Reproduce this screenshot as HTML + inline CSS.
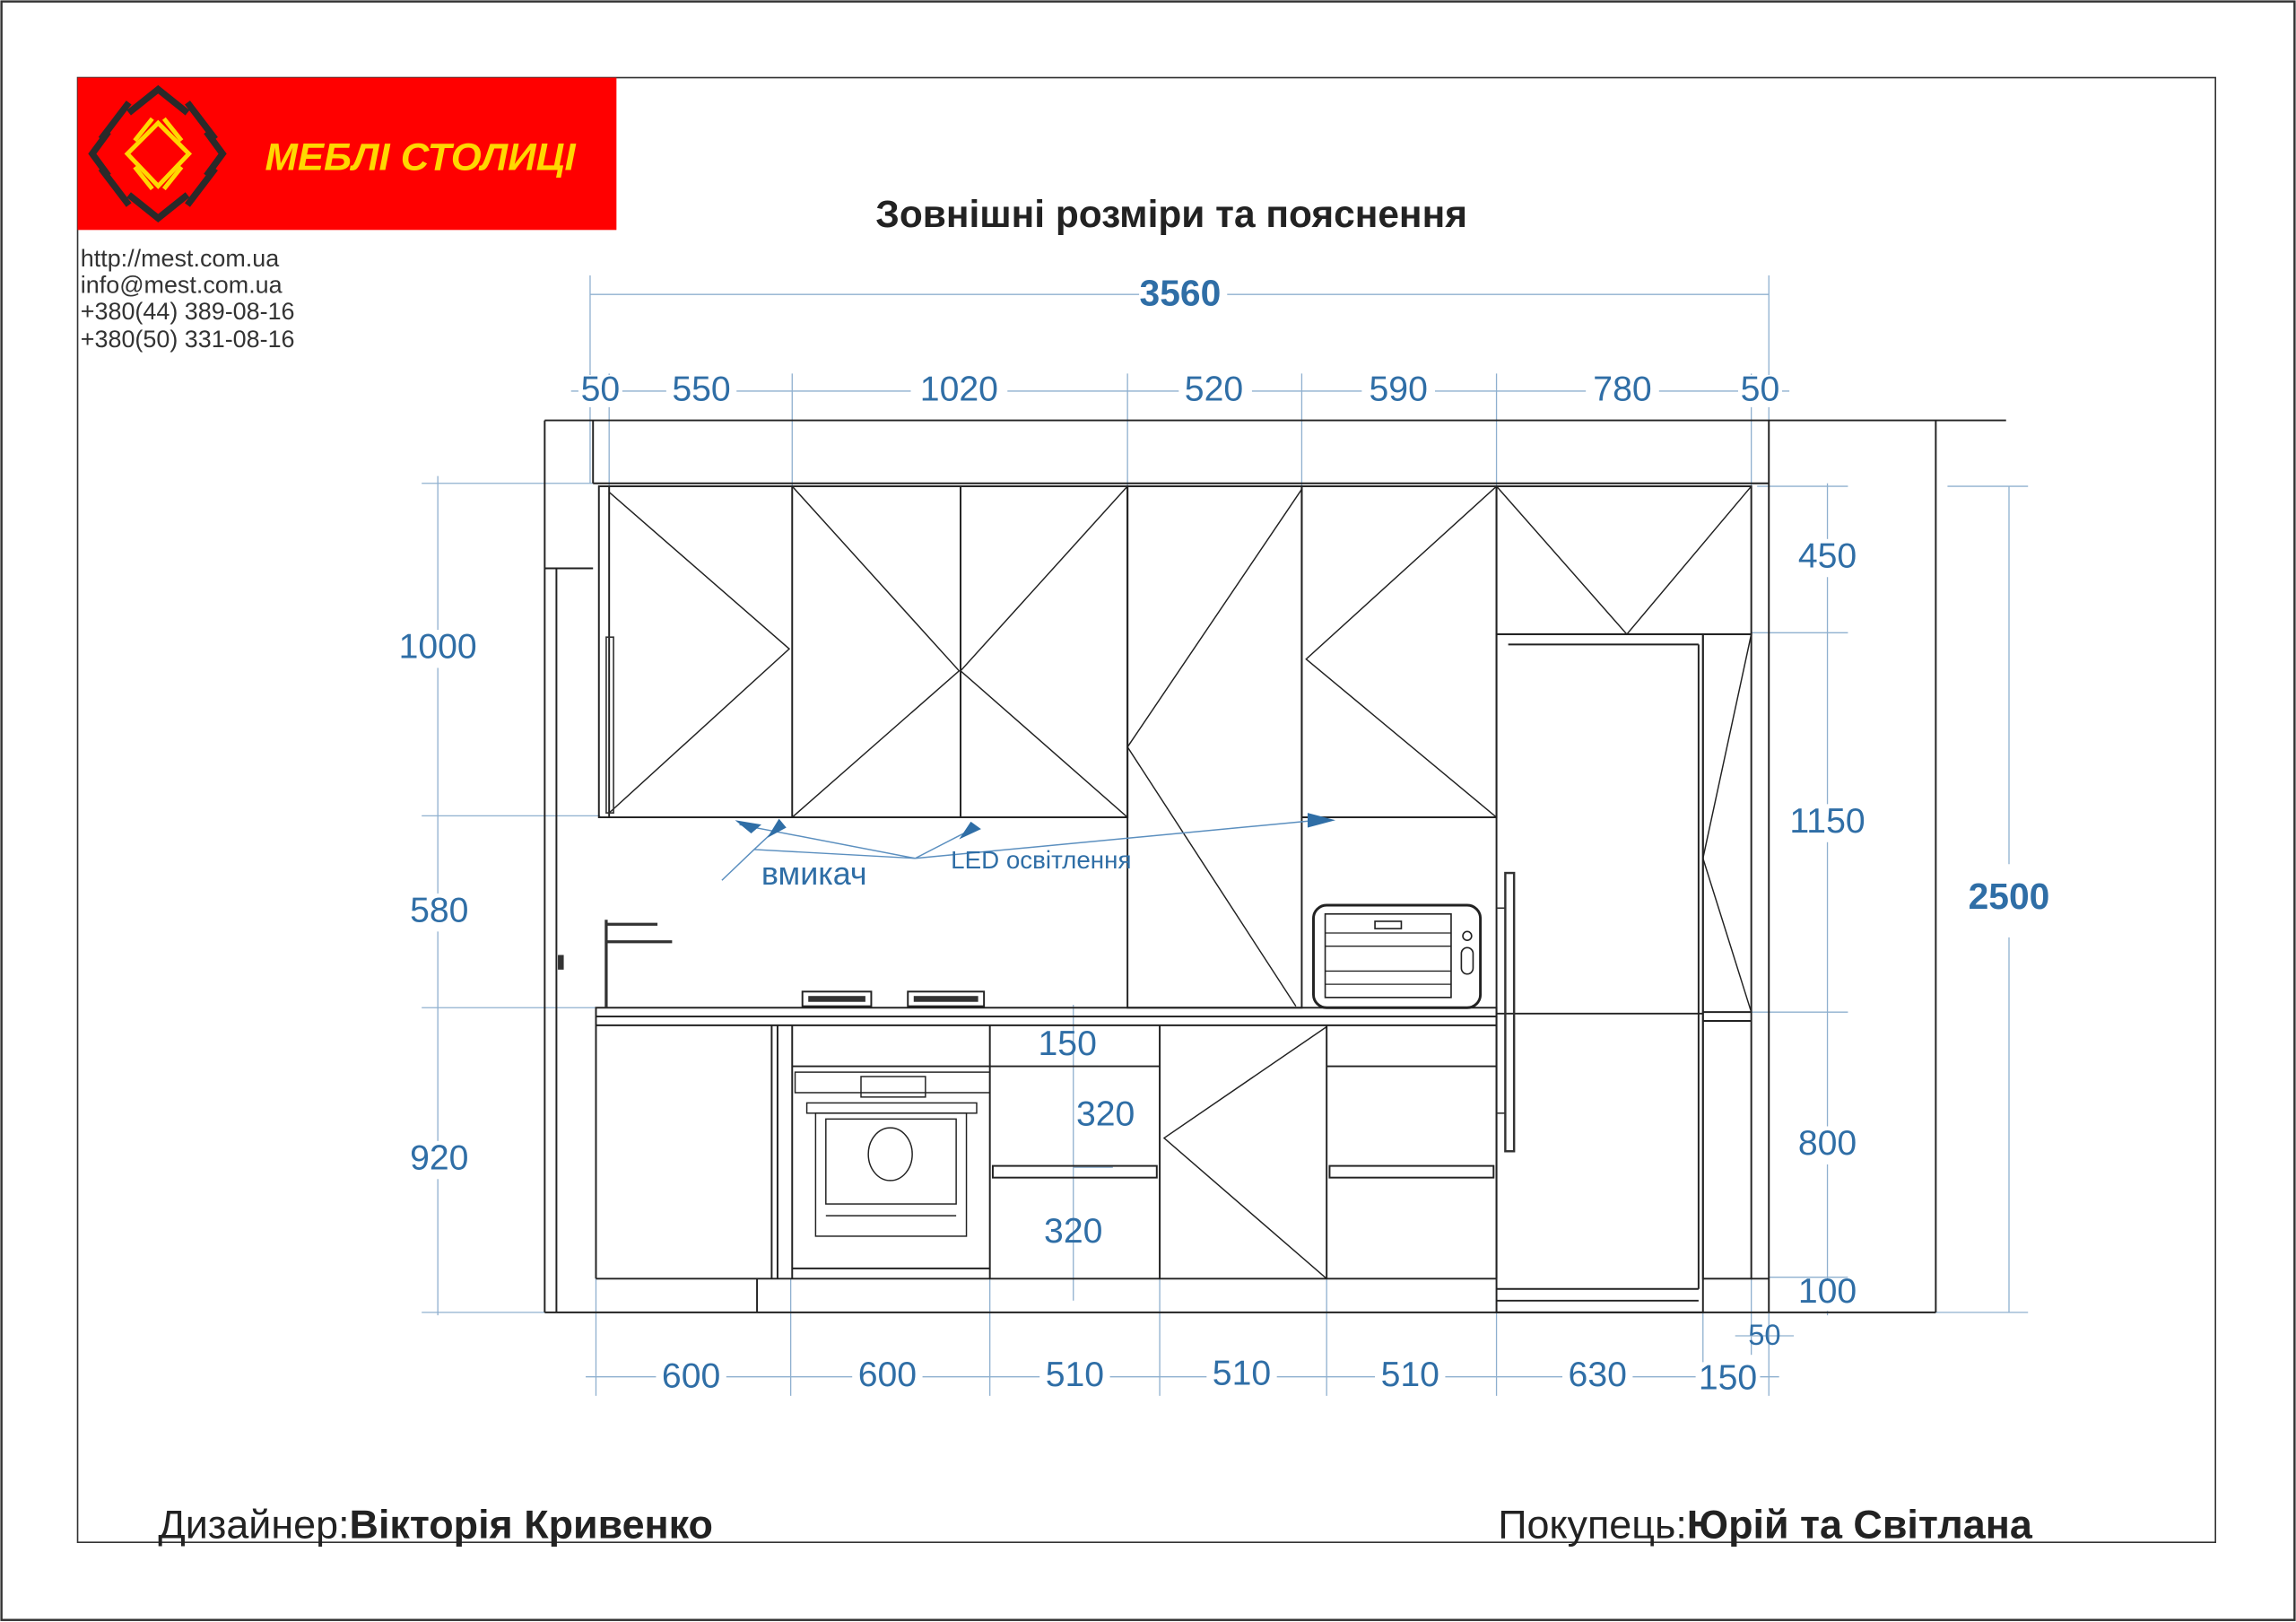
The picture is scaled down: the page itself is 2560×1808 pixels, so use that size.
<!DOCTYPE html>
<html><head><meta charset="utf-8"><style>
html,body{margin:0;padding:0;background:#fff;}
svg{display:block;}
text{font-family:"Liberation Sans",sans-serif;}
.d{fill:#2f6ea6;font-size:24px;text-anchor:middle;dominant-baseline:middle;}
.dl{stroke:#8fb0cf;stroke-width:0.8;fill:none;}
.k{stroke:#222;stroke-width:1.2;fill:none;}
.t{stroke:#222;stroke-width:0.9;fill:none;}
</style></head><body>
<svg width="2560" height="1808" viewBox="0 0 1568 1107.4" preserveAspectRatio="none" xmlns="http://www.w3.org/2000/svg">
<rect x="0" y="0" width="1568" height="1107.4" fill="#fff"/>
<rect x="1" y="1" width="1566" height="1105" fill="none" stroke="#333" stroke-width="1.5"/>
<rect x="53" y="53" width="1460" height="1000" fill="none" stroke="#333" stroke-width="1"/>
<!-- logo -->
<rect x="53" y="53" width="368" height="104" fill="#ff0000"/>
<g stroke="#2a2a2a" stroke-width="4.5" fill="none" stroke-linecap="butt">
<polyline points="74,90 63,105 74,120"/>
<polyline points="141,90 152,105 141,120"/>
<polyline points="88,77 108,61 128,77"/>
<polyline points="88,133 108,149 128,133"/>
<line x1="69" y1="95" x2="88" y2="70"/><line x1="128" y1="70" x2="147" y2="95"/>
<line x1="69" y1="115" x2="88" y2="140"/><line x1="128" y1="140" x2="147" y2="115"/>
</g>
<g stroke="#ffd800" stroke-width="3" fill="none">
<polygon points="108,84 129,105 108,127 87,105"/>
<line x1="92" y1="96" x2="104" y2="81"/><line x1="112" y1="81" x2="124" y2="96"/>
<line x1="92" y1="114" x2="104" y2="129"/><line x1="112" y1="129" x2="124" y2="114"/>
</g>
<text x="181" y="116" font-size="26" font-weight="bold" fill="#ffd800" textLength="212" lengthAdjust="spacingAndGlyphs" font-style="italic">МЕБЛІ  СТОЛИЦІ</text>
<g font-size="16.5" fill="#333">
<text x="55" y="182">http://mest.com.ua</text>
<text x="55" y="200">info@mest.com.ua</text>
<text x="55" y="218">+380(44)  389-08-16</text>
<text x="55" y="237">+380(50)  331-08-16</text>
</g>
<text x="800" y="155" font-size="26" font-weight="bold" fill="#222" text-anchor="middle">Зовнішні розміри та пояснення</text>

<!-- dimension lines -->
<g class="dl">
<line x1="403" y1="201" x2="778" y2="201"/><line x1="838" y1="201" x2="1208" y2="201"/>
<line x1="403" y1="188" x2="403" y2="330"/><line x1="1208" y1="188" x2="1208" y2="330"/>
<line x1="390" y1="267" x2="1222" y2="267"/>
<line x1="416" y1="255" x2="416" y2="335"/><line x1="541" y1="255" x2="541" y2="335"/>
<line x1="770" y1="255" x2="770" y2="335"/><line x1="889" y1="255" x2="889" y2="335"/>
<line x1="1022" y1="255" x2="1022" y2="335"/><line x1="1196" y1="255" x2="1196" y2="335"/>
<line x1="299" y1="325" x2="299" y2="898"/>
<line x1="288" y1="330" x2="405" y2="330"/><line x1="288" y1="557" x2="410" y2="557"/>
<line x1="288" y1="688" x2="410" y2="688"/><line x1="288" y1="896" x2="372" y2="896"/>
<line x1="1248" y1="330" x2="1248" y2="898"/>
<line x1="1200" y1="332" x2="1262" y2="332"/><line x1="1196" y1="432" x2="1262" y2="432"/>
<line x1="1196" y1="691" x2="1262" y2="691"/><line x1="1208" y1="872" x2="1262" y2="872"/>
<line x1="1322" y1="896" x2="1385" y2="896"/>
<line x1="1372" y1="332" x2="1372" y2="590"/><line x1="1372" y1="640" x2="1372" y2="896"/>
<line x1="1330" y1="332" x2="1385" y2="332"/>
<line x1="400" y1="940" x2="1215" y2="940"/>
<line x1="407" y1="873" x2="407" y2="953"/><line x1="540" y1="873" x2="540" y2="953"/>
<line x1="676" y1="873" x2="676" y2="953"/><line x1="792" y1="873" x2="792" y2="953"/>
<line x1="906" y1="873" x2="906" y2="953"/><line x1="1022" y1="873" x2="1022" y2="953"/>
<line x1="1163" y1="873" x2="1163" y2="953"/><line x1="1208" y1="873" x2="1208" y2="953"/>
<line x1="1196" y1="873" x2="1196" y2="925"/><line x1="1185" y1="912" x2="1225" y2="912"/>
<line x1="733" y1="686" x2="733" y2="888"/>
<line x1="733" y1="797" x2="760" y2="797"/><line x1="733" y1="728" x2="750" y2="728"/>
</g>
<g fill="#fff">
<rect x="778" y="190" width="60" height="24"/>
<rect x="395" y="256" width="30" height="22"/><rect x="455" y="256" width="48" height="22"/>
<rect x="622" y="256" width="66" height="22"/><rect x="805" y="256" width="50" height="22"/>
<rect x="930" y="256" width="50" height="22"/><rect x="1083" y="256" width="50" height="22"/>
<rect x="1187" y="256" width="30" height="22"/>
<rect x="270" y="430" width="58" height="26"/><rect x="275" y="610" width="50" height="26"/><rect x="275" y="779" width="50" height="26"/>
<rect x="1222" y="368" width="52" height="26"/><rect x="1215" y="549" width="66" height="26"/>
<rect x="1222" y="769" width="52" height="26"/><rect x="1225" y="873" width="46" height="22"/>
<rect x="1348" y="600" width="50" height="28"/>
<rect x="448" y="929" width="48" height="24"/><rect x="582" y="928" width="48" height="24"/>
<rect x="710" y="928" width="48" height="24"/><rect x="824" y="927" width="48" height="24"/>
<rect x="939" y="928" width="48" height="24"/><rect x="1067" y="928" width="48" height="24"/>
<rect x="1158" y="930" width="44" height="24"/>
</g>
<g class="d">
<text x="806" y="202" font-weight="bold" font-size="25">3560</text>
<text x="410" y="267">50</text><text x="479" y="267">550</text><text x="655" y="267">1020</text>
<text x="829" y="267">520</text><text x="955" y="267">590</text><text x="1108" y="267">780</text><text x="1202" y="267">50</text>
<text x="299" y="443">1000</text><text x="300" y="623">580</text><text x="300" y="792">920</text>
<text x="1248" y="381">450</text><text x="1248" y="562">1150</text><text x="1248" y="782">800</text><text x="1248" y="883">100</text>
<text x="1205" y="913" font-size="20">50</text>
<text x="1372" y="614" font-weight="bold" font-size="25">2500</text>
<text x="472" y="941">600</text><text x="606" y="940">600</text><text x="734" y="940">510</text>
<text x="848" y="939">510</text><text x="963" y="940">510</text><text x="1091" y="940">630</text><text x="1180" y="942">150</text>
<text x="729" y="714">150</text><text x="755" y="762">320</text><text x="733" y="842">320</text>
</g>

<!-- walls -->
<g class="k">
<line x1="372" y1="287" x2="1370" y2="287"/>
<line x1="372" y1="287" x2="372" y2="896"/>
<line x1="372" y1="896" x2="1322" y2="896"/>
<line x1="405" y1="287" x2="405" y2="330"/>
<line x1="372" y1="388" x2="405" y2="388"/>
<line x1="380" y1="388" x2="380" y2="896"/>
<line x1="1208" y1="287" x2="1208" y2="896"/>
<line x1="1322" y1="287" x2="1322" y2="896"/>
<line x1="405" y1="330" x2="1208" y2="330"/>
</g>
<rect x="381" y="652" width="4" height="10" fill="#333"/>
<!-- upper cabinets -->
<g class="k">
<rect x="409" y="332" width="361" height="226"/>
<line x1="416" y1="332" x2="416" y2="558"/>
<line x1="541" y1="332" x2="541" y2="558"/>
<line x1="656" y1="332" x2="656" y2="558"/>
<rect x="770" y="332" width="119" height="356"/>
<rect x="889" y="332" width="133" height="226"/>
<rect x="1022" y="332" width="174" height="101"/>
<rect x="1022" y="433" width="141" height="463"/>
<line x1="1030" y1="440" x2="1160" y2="440"/>
<line x1="1160" y1="440" x2="1160" y2="880"/>
<rect x="1163" y="433" width="33" height="440"/>
<line x1="1022" y1="692" x2="1163" y2="692"/>
<line x1="1022" y1="880" x2="1160" y2="880"/>
<line x1="1022" y1="888" x2="1160" y2="888"/>
<line x1="1163" y1="691" x2="1196" y2="691"/>
<line x1="1163" y1="697" x2="1196" y2="697"/>
<line x1="1196" y1="873" x2="1208" y2="873"/>
</g>
<g class="t">
<polyline points="416,336 539,443 416,555"/>
<polyline points="541,332 655,458 541,558"/>
<polyline points="770,332 656,458 770,558"/>
<polyline points="889,334 770,510 885,687"/>
<polyline points="1022,332 892,450 1022,558"/>
<polyline points="1022,332 1111,433 1196,332"/>
<polyline points="1196,433 1163,586 1196,691"/>
<polyline points="906,701 795,777 906,873"/>
</g>
<rect x="414" y="435" width="5" height="120" fill="none" stroke="#333" stroke-width="1"/>
<!-- countertop & base -->
<g class="k">
<rect x="407" y="688" width="615" height="6"/>
<line x1="407" y1="700" x2="1022" y2="700"/>
<line x1="407" y1="694" x2="407" y2="873"/>
<line x1="527" y1="700" x2="527" y2="873"/>
<line x1="531" y1="700" x2="531" y2="873"/>
<line x1="541" y1="700" x2="541" y2="873"/>
<line x1="676" y1="700" x2="676" y2="873"/>
<line x1="792" y1="700" x2="792" y2="873"/>
<line x1="906" y1="700" x2="906" y2="873"/>
<line x1="1022" y1="694" x2="1022" y2="873"/>
<line x1="407" y1="873" x2="1022" y2="873"/>
<line x1="517" y1="873" x2="517" y2="896"/>
<line x1="541" y1="728" x2="676" y2="728"/>
<line x1="541" y1="866" x2="676" y2="866"/>
<line x1="676" y1="728" x2="792" y2="728"/>
<rect x="678" y="796" width="112" height="8"/>
<line x1="906" y1="728" x2="1022" y2="728"/>
<rect x="908" y="796" width="112" height="8"/>
</g>
<!-- oven -->
<g class="t">
<rect x="543" y="732" width="133" height="14"/>
<rect x="588" y="735" width="44" height="14"/>
<rect x="551" y="753" width="116" height="7"/>
<rect x="557" y="760" width="103" height="84"/>
<rect x="564" y="764" width="89" height="58"/>
<line x1="564" y1="830" x2="653" y2="830"/>
<ellipse cx="608" cy="788" rx="15" ry="18"/>
</g>
<!-- hob -->
<g stroke="#222" stroke-width="1.2" fill="#fff">
<rect x="548" y="677" width="47" height="10"/>
<rect x="620" y="677" width="52" height="10"/>
</g>
<g fill="#333"><rect x="552" y="680" width="39" height="4"/><rect x="624" y="680" width="44" height="4"/></g>
<!-- faucet -->
<g fill="none" stroke="#333" stroke-width="2">
<line x1="414" y1="628" x2="414" y2="688"/>
<line x1="414" y1="631" x2="449" y2="631"/>
<line x1="414" y1="643" x2="459" y2="643"/>
</g>
<!-- microwave -->
<g stroke="#222" fill="none">
<rect x="897" y="618" width="114" height="70" rx="9" stroke-width="1.8"/>
<rect x="905" y="624" width="86" height="57" stroke-width="1"/>
<line x1="905" y1="637" x2="991" y2="637" stroke-width="0.8"/>
<line x1="905" y1="646" x2="991" y2="646" stroke-width="0.8"/>
<line x1="905" y1="663" x2="991" y2="663" stroke-width="0.8"/>
<line x1="905" y1="672" x2="991" y2="672" stroke-width="0.8"/>
<rect x="939" y="629" width="18" height="5" stroke-width="1"/>
<circle cx="1002" cy="639" r="3" stroke-width="1"/>
<rect x="998" y="647" width="8" height="18" rx="4" stroke-width="1"/>
</g>
<!-- fridge handle -->
<rect x="1028" y="596" width="6" height="190" fill="none" stroke="#333" stroke-width="1.5"/>
<line x1="1022" y1="620" x2="1028" y2="620" stroke="#333"/><line x1="1022" y1="760" x2="1028" y2="760" stroke="#333"/>

<!-- annotations -->
<g stroke="#5b8fbf" stroke-width="0.9" fill="none">
<polyline points="493,601 515,580 530,566"/>
<line x1="515" y1="580" x2="625" y2="586"/>
<line x1="505" y1="563" x2="625" y2="586"/>
<line x1="625" y1="586" x2="662" y2="567"/>
<line x1="625" y1="586" x2="900" y2="560"/>
</g>
<g fill="#2f6ea6">
<polygon points="502,560 520,563 513,569"/>
<polygon points="524,572 532,559 537,565"/>
<polygon points="655,573 663,561 670,566"/>
<polygon points="893,555 912,560 893,565"/>
</g>
<text x="556" y="604" font-size="22" fill="#2f6ea6" text-anchor="middle">вмикач</text>
<text x="711" y="593" font-size="17" fill="#2f6ea6" text-anchor="middle">LED освітлення</text>

<!-- footer -->
<text x="108" y="1050" font-size="27.5" fill="#222">Дизайнер:<tspan font-weight="bold">Вікторія Кривенко</tspan></text>
<text x="1023" y="1050" font-size="27.5" fill="#222">Покупець:<tspan font-weight="bold">Юрій та Світлана</tspan></text>
</svg>
</body></html>
